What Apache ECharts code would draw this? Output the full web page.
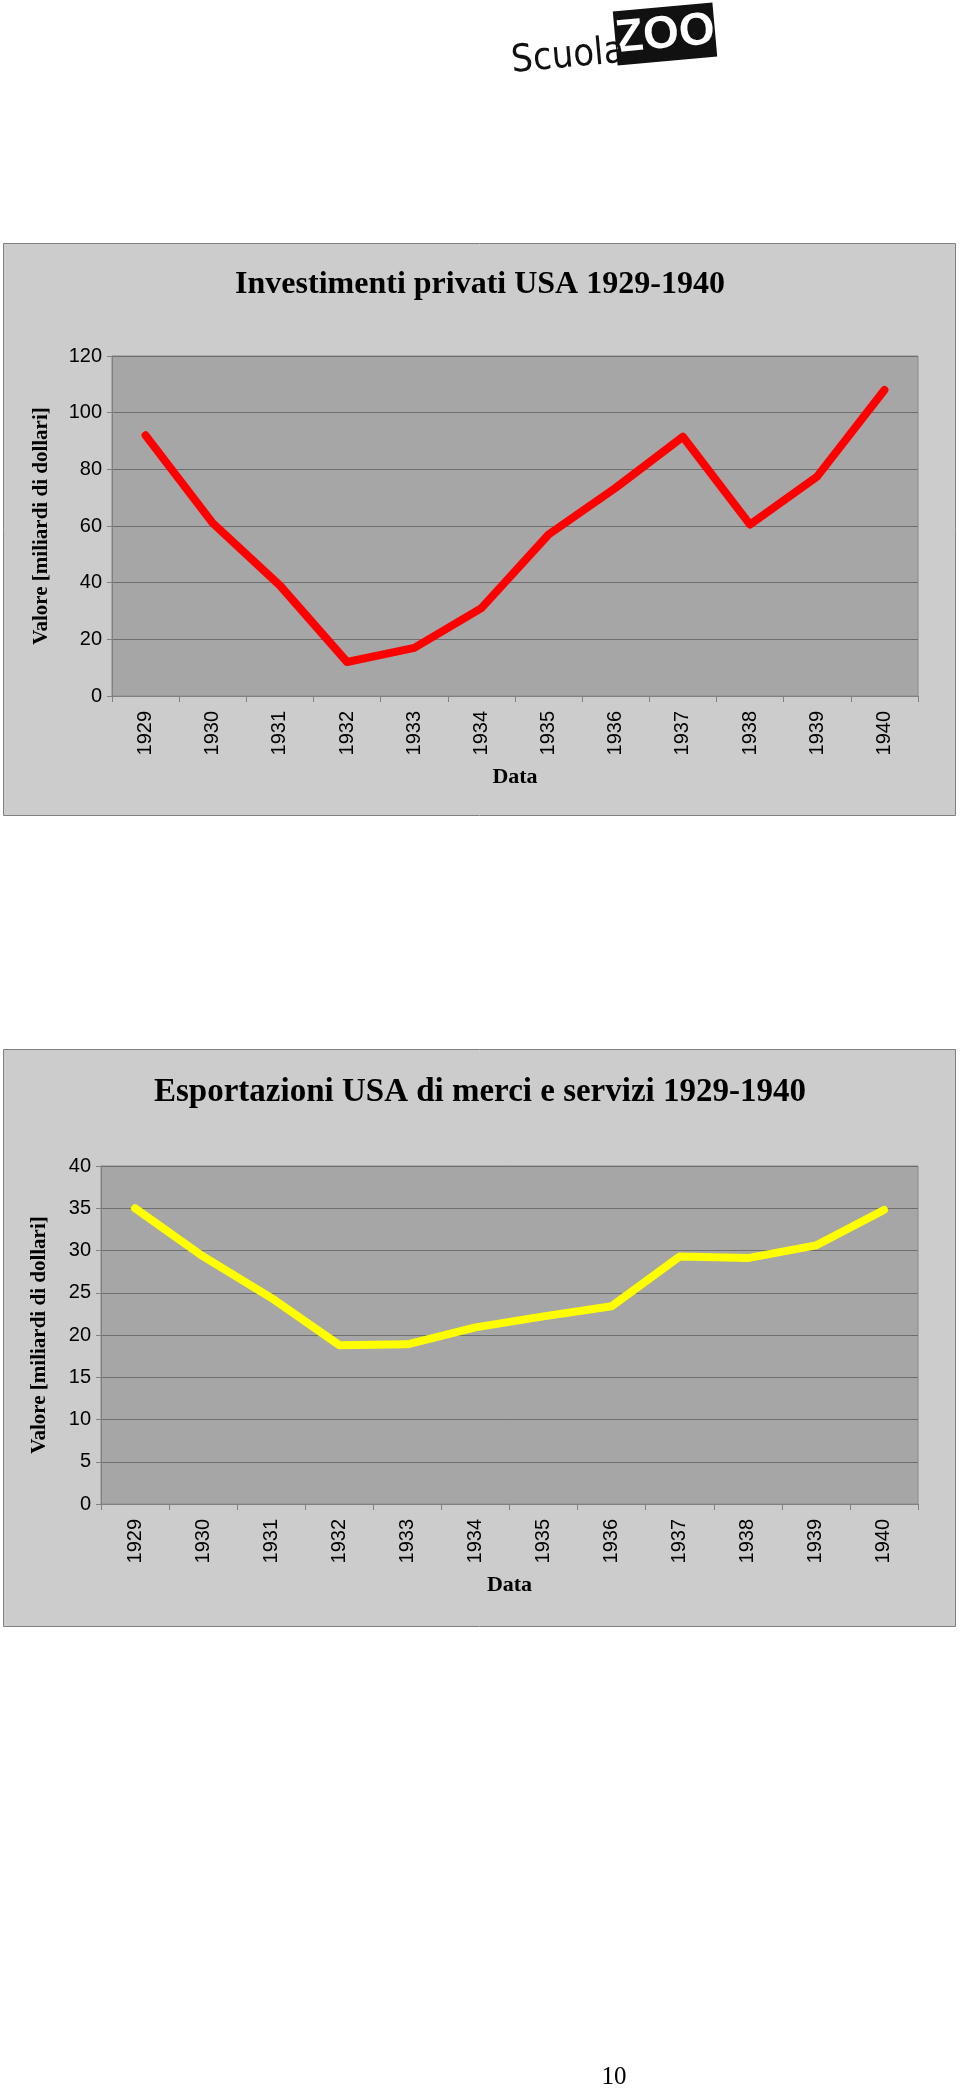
<!DOCTYPE html>
<html>
<head>
<meta charset="utf-8">
<script src="https://cdn.jsdelivr.net/npm/echarts@6/dist/echarts.min.js"></script>
<style>
  html, body { margin: 0; padding: 0; background: #fff; }
  #chart { width: 960px; height: 2089px; }
</style>
</head>
<body>
<div id="chart"></div>
<script>
// dati
const years = ['1929', '1930', '1931', '1932', '1933', '1934', '1935', '1936', '1937', '1938', '1939', '1940'];
const investimenti = [92, 61, 39, 12, 17, 31, 57, 73.5, 91.5, 60.5, 77.5, 108];
const esportazioni = [35, 29.3, 24.4, 18.8, 18.9, 20.9, 22.2, 23.4, 29.3, 29.1, 30.6, 34.8];

const title1 = 'Investimenti privati USA 1929-1940';
const title2 = 'Esportazioni USA di merci e servizi 1929-1940';
const yName = 'Valore [miliardi di dollari]';
const xName = 'Data';

const frameBg = '#cccccc';
const plotBg = '#a6a6a6';
const gridLineColor = '#6e6e6e';
const axisColor = '#808080';

const chart = echarts.init(document.getElementById('chart'), null, { renderer: 'canvas' });

function xAxisOf(gridIndex, gap) {
  return {
    type: 'category',
    gridIndex: gridIndex,
    data: years,
    boundaryGap: true,
    name: xName,
    nameLocation: 'middle',
    nameGap: gap,
    nameTextStyle: { fontFamily: 'Liberation Serif', fontWeight: 'bold', fontSize: 22, color: '#000' },
    axisLine: { show: true, lineStyle: { color: axisColor, width: 1 } },
    axisTick: { show: true, length: 6, lineStyle: { color: axisColor } },
    axisLabel: { rotate: 90, fontFamily: 'Liberation Sans', fontSize: 20, color: '#000', margin: 15 },
    splitLine: { show: false }
  };
}

function yAxisOf(gridIndex, max, interval, gap) {
  return {
    type: 'value',
    gridIndex: gridIndex,
    min: 0,
    max: max,
    interval: interval,
    name: yName,
    nameLocation: 'middle',
    nameGap: gap,
    nameTextStyle: { fontFamily: 'Liberation Serif', fontWeight: 'bold', fontSize: 21, color: '#000' },
    axisLine: { show: true, lineStyle: { color: axisColor, width: 1 } },
    axisTick: { show: true, length: 5, lineStyle: { color: axisColor } },
    axisLabel: { fontFamily: 'Liberation Sans', fontSize: 20, color: '#000', margin: 10 },
    splitLine: { show: true, lineStyle: { color: gridLineColor, width: 1 } }
  };
}

const option = {
  backgroundColor: '#ffffff',
  animation: false,
  title: [
    {
      text: title1, left: 'center', top: 264,
      textStyle: { fontFamily: 'Liberation Serif', fontWeight: 'bold', fontSize: 32, color: '#000' }
    },
    {
      text: title2, left: 'center', top: 1071,
      textStyle: { fontFamily: 'Liberation Serif', fontWeight: 'bold', fontSize: 33, color: '#000' }
    }
  ],
  graphic: [
    // cornici dei due grafici
    { type: 'rect', z: -10, shape: { x: 3.5, y: 243.5, width: 952, height: 572 }, style: { fill: frameBg, stroke: '#808080', lineWidth: 1 } },
    { type: 'rect', z: -10, shape: { x: 3.5, y: 1049.5, width: 952, height: 577 }, style: { fill: frameBg, stroke: '#808080', lineWidth: 1 } },
    // logo
    { type: 'rect', x: 665, y: 34, rotation: 0.09, shape: { x: -50, y: -27, width: 100, height: 54 }, style: { fill: '#111' } },
    { type: 'text', x: 665, y: 35, rotation: 0.09, style: { text: 'ZOO', fill: '#fff', font: 'bold 46px "Liberation Sans Narrow", "Liberation Sans"', align: 'center', verticalAlign: 'middle' } },
    { type: 'text', x: 568, y: 57, rotation: 0.09, style: { text: 'Scuola', fill: '#111', font: '38px "DejaVu Sans Condensed", "Liberation Sans Narrow", "Liberation Sans"', align: 'center', verticalAlign: 'middle' } },
    // numero di pagina
    { type: 'text', x: 614, y: 2077, style: { text: '10', fill: '#000', font: '25px "Liberation Serif"', align: 'center', verticalAlign: 'middle' } }
  ],
  grid: [
    { left: 112, right: 42, top: 356, height: 340, show: true, backgroundColor: plotBg, borderColor: '#8a8a8a', borderWidth: 1 },
    { left: 101, right: 42, top: 1166, height: 338, show: true, backgroundColor: plotBg, borderColor: '#8a8a8a', borderWidth: 1 }
  ],
  xAxis: [xAxisOf(0, 70), xAxisOf(1, 70)],
  yAxis: [yAxisOf(0, 120, 20, 60), yAxisOf(1, 40, 5, 51)],
  series: [
    {
      type: 'line', xAxisIndex: 0, yAxisIndex: 0, data: investimenti,
      showSymbol: false, smooth: false,
      lineStyle: { color: '#ff0000', width: 8, cap: 'round', join: 'round' }
    },
    {
      type: 'line', xAxisIndex: 1, yAxisIndex: 1, data: esportazioni,
      showSymbol: false, smooth: false,
      lineStyle: { color: '#ffff00', width: 8, cap: 'round', join: 'round' }
    }
  ]
};

chart.setOption(option);
window.addEventListener('resize', () => chart.resize());
</script>
</body>
</html>
